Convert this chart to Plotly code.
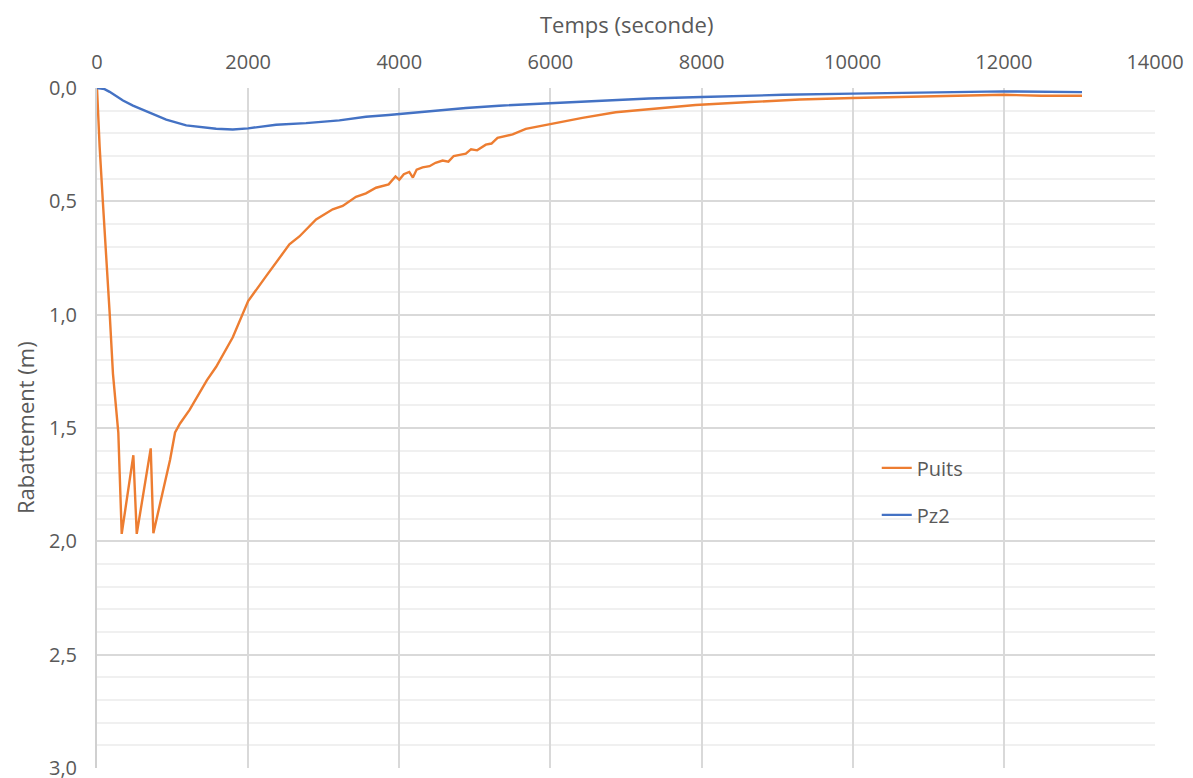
import plotly.graph_objects as go

# Puits (well) drawdown
puits_t = [0, 35, 79, 123, 167, 211, 250, 282, 327, 481, 526, 711, 746, 812, 878, 967,
           1033, 1099, 1225, 1453, 1577, 1797, 2000, 2238, 2546, 2678, 2899, 3119, 3251,
           3427, 3559, 3692, 3859, 3950, 4000, 4060, 4132, 4180, 4230, 4308, 4400, 4480,
           4573, 4650, 4720, 4800, 4881, 4950, 5030, 5145, 5220, 5300, 5410, 5500, 5674,
           5982, 6423, 6863, 7304, 7920, 8640, 9300, 10000, 10850, 11730, 12000, 12500, 13034]
puits_v = [0, 0.26, 0.51, 0.73, 0.99, 1.26, 1.40, 1.52, 1.967, 1.62, 1.967, 1.59, 1.964,
           1.86, 1.77, 1.64, 1.52, 1.48, 1.42, 1.29, 1.23, 1.10, 0.94, 0.83, 0.69, 0.655,
           0.58, 0.535, 0.52, 0.48, 0.465, 0.44, 0.425, 0.39, 0.405, 0.38, 0.37, 0.395,
           0.36, 0.35, 0.345, 0.33, 0.32, 0.325, 0.30, 0.295, 0.29, 0.27, 0.275, 0.25,
           0.245, 0.22, 0.21, 0.205, 0.18, 0.16, 0.132, 0.107, 0.094, 0.075, 0.062, 0.051,
           0.044, 0.038, 0.034, 0.030, 0.034, 0.034]

# Pz2 (piezometer) drawdown
pz2_t = [0, 100, 167, 344, 476, 696, 916, 1181, 1577, 1797, 2000, 2370, 2766, 3207, 3559, 3859,
         4441, 4881, 5322, 5982, 6643, 7304, 8000, 9080, 10000, 10850, 11730, 12000, 13034]
pz2_v = [0.0, 0.005, 0.017, 0.055, 0.078, 0.11, 0.14, 0.165, 0.18, 0.183, 0.178, 0.162, 0.155,
         0.143, 0.127, 0.119, 0.10, 0.088, 0.078, 0.067, 0.054, 0.046, 0.04, 0.03, 0.025,
         0.022, 0.019, 0.015, 0.018]

x_ticks = [0, 2000, 4000, 6000, 8000, 10000, 12000, 14000]
y_ticks = [0.0, 0.5, 1.0, 1.5, 2.0, 2.5, 3.0]

ORANGE = "#ED7D31"
BLUE = "#4472C4"
FONT = "Open Sans"
TXT = "#595959"
TICK_SIZE = 20
TITLE_SIZE = 22

fig = go.Figure()
fig.add_trace(go.Scatter(x=puits_t, y=puits_v, mode="lines", name="Puits",
                         line=dict(color=ORANGE, width=2.4), legendgroup="a"))
fig.add_trace(go.Scatter(x=pz2_t, y=pz2_v, mode="lines", name="Pz2",
                         line=dict(color=BLUE, width=2.4), legendgroup="b"))

fig.update_layout(
    width=1185, height=770,
    margin=dict(l=89, r=38, t=80, b=10),
    plot_bgcolor="white", paper_bgcolor="white",
    separators=", ",
    font=dict(family=FONT, size=TICK_SIZE, color=TXT),
    showlegend=True,
    legend=dict(x=0.737, y=0.47, xanchor="left", yanchor="top",
                font=dict(family=FONT, size=TICK_SIZE, color=TXT),
                tracegroupgap=18, bgcolor="rgba(0,0,0,0)"),
    annotations=[
        dict(text="Temps (seconde)", xref="paper", yref="paper", x=0.5, y=1, yshift=64,
             xanchor="center", yanchor="middle", showarrow=False,
             font=dict(family=FONT, size=TITLE_SIZE, color=TXT)),
        dict(text="Rabattement (m)", xref="paper", yref="paper", x=0, y=0.5, xshift=-72,
             xanchor="center", yanchor="middle", textangle=-90, showarrow=False,
             font=dict(family=FONT, size=TITLE_SIZE, color=TXT)),
    ],
)
fig.update_xaxes(
    side="top", range=[0, 14000], tickvals=x_ticks, tickformat="d", automargin=False,
    showgrid=True, gridcolor="#d9d9d9", gridwidth=2,
    zeroline=False, showline=False, ticks="", ticklabelstandoff=14,
    tickfont=dict(family=FONT, size=TICK_SIZE, color=TXT),
)
fig.update_yaxes(
    range=[3, 0], tickvals=y_ticks, tickformat=".1f", automargin=False,
    showgrid=True, gridcolor="#d9d9d9", gridwidth=2,
    minor=dict(dtick=0.1, showgrid=True, gridcolor="#f0f0f0", gridwidth=2),
    zeroline=False, showline=True, linecolor="#d0d0d0", linewidth=2, ticks="",
    ticklabelstandoff=14, ticklabeloverflow="allow",
    tickfont=dict(family=FONT, size=TICK_SIZE, color=TXT),
)

fig.write_html("out.html")
